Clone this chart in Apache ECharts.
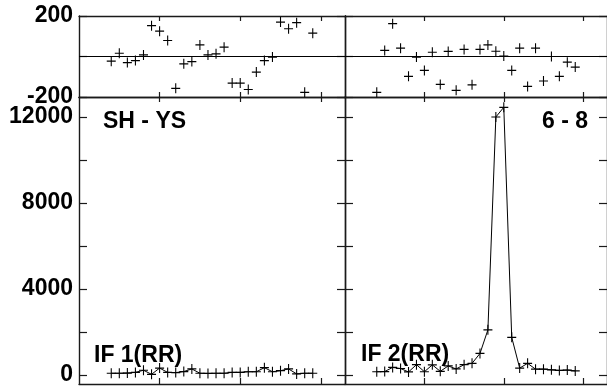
<!DOCTYPE html>
<html>
<head>
<meta charset="utf-8">
<script src="https://cdn.jsdelivr.net/npm/echarts@6/dist/echarts.min.js"></script>
<style>
html,body{margin:0;padding:0;background:#fff;}
#chart{width:607px;height:390px;}
</style>
</head>
<body>
<div id="chart"></div>
<script>
// ---- data ----
const channels = [4,5,6,7,8,9,10,11,12,13,14,15,16,17,18,19,20,21,22,23,24,25,26,27,28,29];
const ifOneFlux = [80,80,90,120,220,30,320,120,110,160,280,80,70,80,80,120,120,150,150,340,150,200,280,50,80,80];
const ifTwoFlux = [150,160,350,300,140,480,150,470,170,420,280,480,540,1000,2100,12000,12450,1750,320,540,270,270,240,210,230,190];
const ifOneResid = [-23,16,-30,-20,8,152,125,79,-157,-36,-25,57,8,13,46,-131,-131,-163,-77,-20,-3,170,137,167,-177,115];
const ifTwoResid = [-177,30,162,41,-98,-3,-69,21,-138,25,-167,35,-140,35,57,26,2,-69,41,-148,41,-121,0,-98,-28,-52];
const mainTickValues = [0,2000,4000,6000,8000,10000,12000];
const mainLabelValues = [0,4000,8000,12000];
const residTickValues = [-200,0,200];
const residLabelValues = [-200,200];
const xTickValues = [10,20,30];
const panelTitles = ['SH - YS','6 - 8'];
const ifLabels = ['IF 1(RR)','IF 2(RR)'];

// ---- layout ----
const FONT = '"Liberation Sans", Arial, sans-serif';
const frame = {lineStyle:{color:'#1a1a1a', width:1.4}};
const grids = [
  {left:79, top:16, width:266, height:81},   // resid 1
  {left:79, top:97, width:266, height:287},  // main 1
  {left:345, top:16, width:266, height:81},  // resid 2
  {left:345, top:97, width:266, height:287}  // main 2
];
const xAxes = [], yAxes = [];
grids.forEach((g, gi) => {
  const isMain = gi % 2 === 1;
  ['bottom','top'].forEach(pos => {
    xAxes.push({
      type:'value', gridIndex:gi, position:pos, min:0, max:33,
      axisLine:{show:true, onZero:false, ...frame},
      axisTick:{show:true, inside:true, length: isMain && pos==='bottom' ? 6 : 5,
        customValues:xTickValues, lineStyle:{color:'#1a1a1a', width:1.2}},
      axisLabel:{show:false}, splitLine:{show:false}
    });
  });
  ['left','right'].forEach(pos => {
    const showLab = gi < 2 && pos === 'left';
    yAxes.push({
      type:'value', gridIndex:gi, position:pos,
      min: isMain ? -420 : -200, max: isMain ? 12930 : 200,
      axisLine:{show:true, onZero:false, ...frame},
      axisTick:{show:true, inside:true, length:8,
        customValues: isMain ? mainTickValues : residTickValues,
        lineStyle:{color:'#1a1a1a', width:1.2}},
      axisLabel:{show:showLab, margin:6, color:'#000', fontFamily:FONT,
        fontWeight:'bold', fontSize:23,
        formatter: v => String(v),
        customValues: isMain ? mainLabelValues : residLabelValues},
      splitLine:{show:false}
    });
  });
});

const plusSym = 'path://M0,4.4h10v1.2h-10z M4.4,0h1.2v10h-1.2z';
const series = [];
[ifOneResid, ifTwoResid].forEach((res, k) => {
  series.push({
    type:'scatter', xAxisIndex:4*k, yAxisIndex:4*k,
    data: channels.map((c,i)=>[c,res[i]]),
    symbol:plusSym, symbolSize:[9,10], itemStyle:{color:'#000', opacity:1},
    silent:true,
    markLine:{silent:true, symbol:'none', label:{show:false},
      lineStyle:{color:'#000', width:1, type:'solid'}, data:[{yAxis:0}]}
  });
});
[ifOneFlux, ifTwoFlux].forEach((flux, k) => {
  series.push({
    type:'line', xAxisIndex:4*k+2, yAxisIndex:4*k+2,
    data: channels.map((c,i)=>[c,flux[i]]),
    symbol:plusSym, symbolSize:[9,10], showAllSymbol:true,
    itemStyle:{color:'#000'}, lineStyle:{color:'#000', width:1},
    silent:true
  });
});

const chart = echarts.init(document.getElementById('chart'), null, {renderer:'canvas'});
chart.setOption({
  animation:false,
  backgroundColor:'#fff',
  grid:grids,
  xAxis:xAxes,
  yAxis:yAxes,
  series:series,
  graphic:[
    {type:'text', x:103, y:122, style:{text:panelTitles[0], font:'bold 23px ' + FONT, fill:'#000', textVerticalAlign:'middle'}},
    {type:'text', x:542, y:122, style:{text:panelTitles[1], font:'bold 23px ' + FONT, fill:'#000', textVerticalAlign:'middle'}},
    {type:'text', x:94, y:356, style:{text:ifLabels[0], font:'bold 23px ' + FONT, fill:'#000', textVerticalAlign:'middle'}},
    {type:'text', x:361, y:355, style:{text:ifLabels[1], font:'bold 23px ' + FONT, fill:'#000', textVerticalAlign:'middle'}}
  ]
});
</script>
</body>
</html>
